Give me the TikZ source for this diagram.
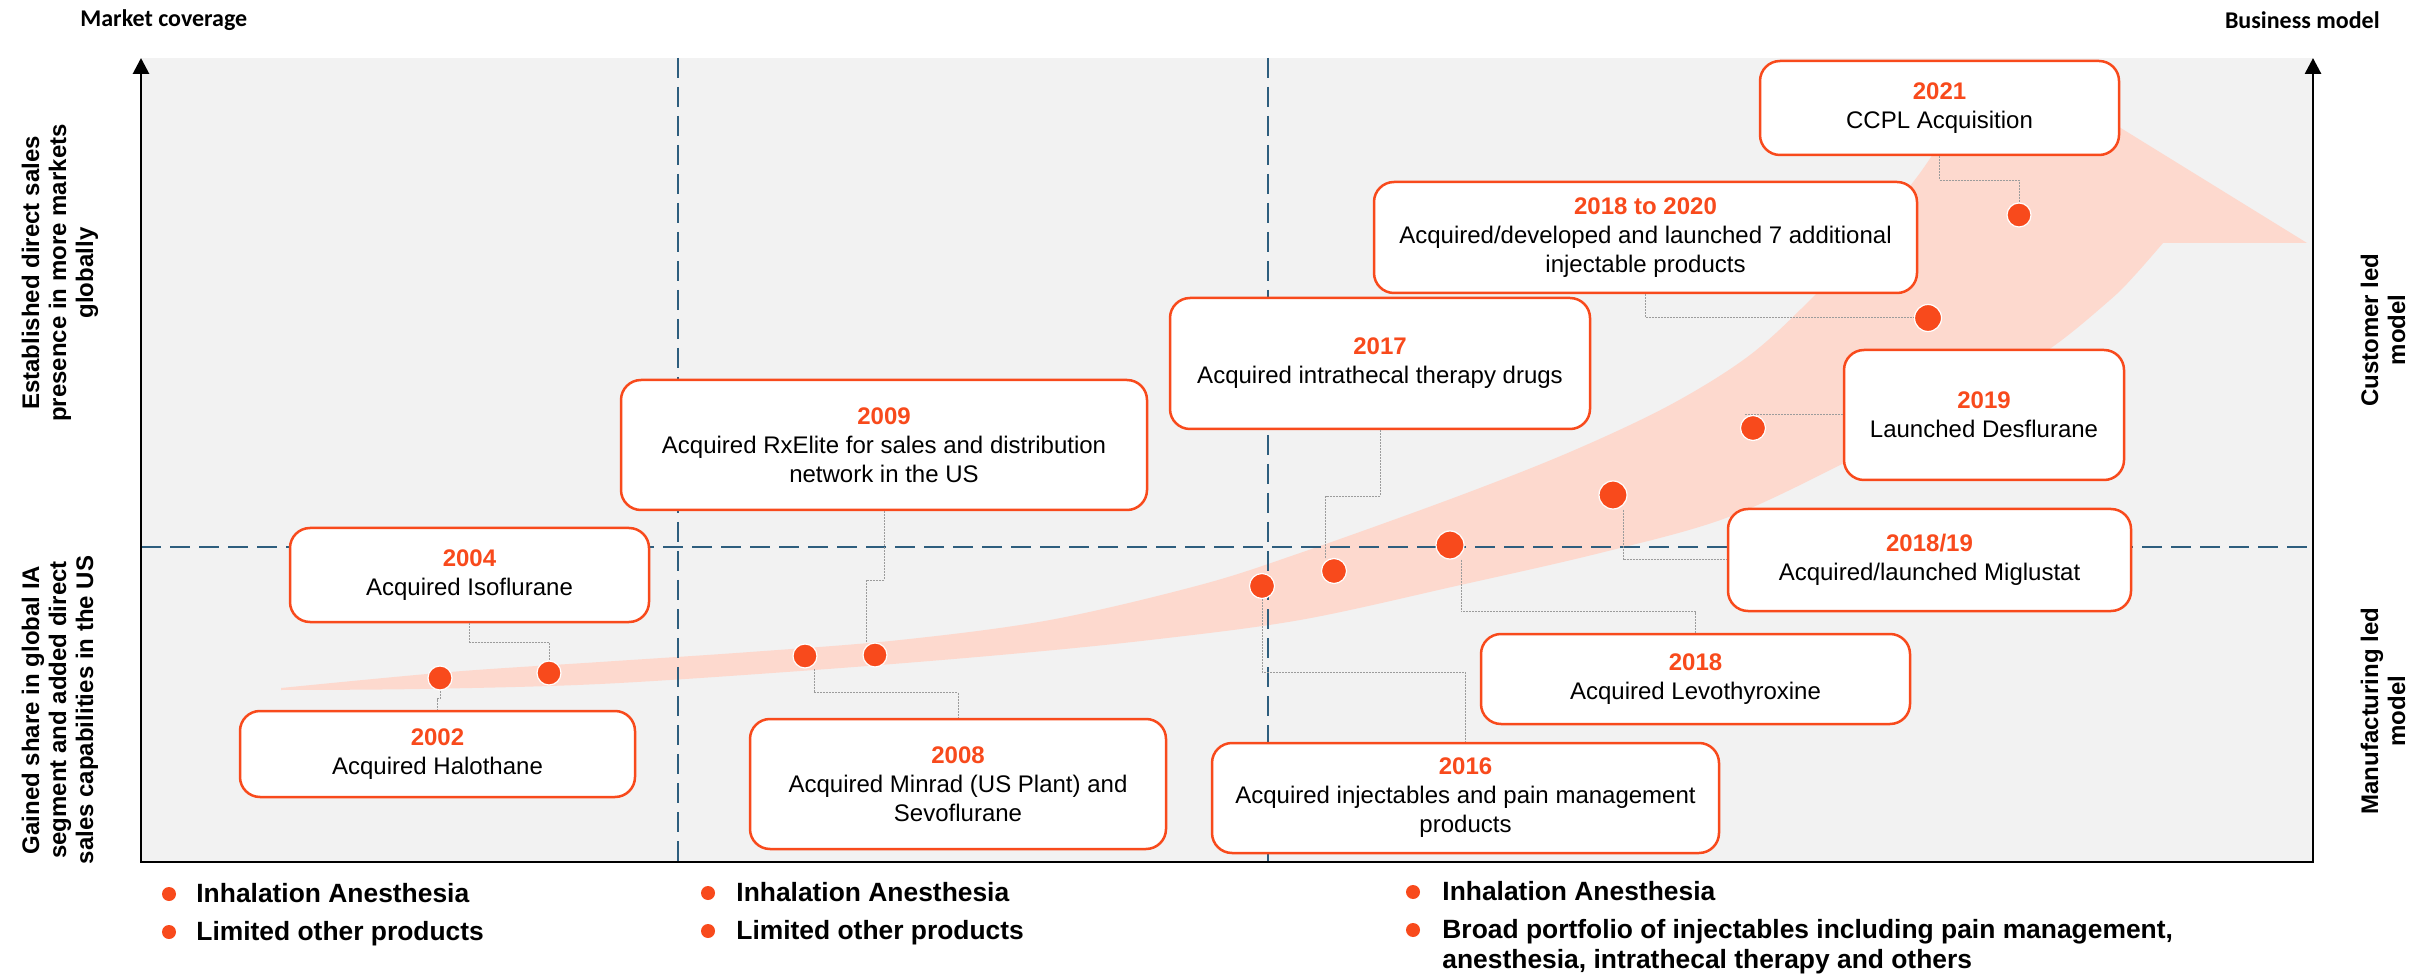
\documentclass[tikz,border=0pt]{standalone}
\usepackage{fontspec}
\setmainfont{Liberation Sans}
\newfontfamily\hdfont{Carlito}
\usetikzlibrary{arrows.meta}
\definecolor{accent}{HTML}{F84A1C}
\definecolor{band}{HTML}{FDD9CE}
\definecolor{panel}{HTML}{F2F2F2}
\definecolor{divblue}{HTML}{2E5E7E}
\definecolor{conngray}{HTML}{9C9C9C}
\newcommand\yr[1]{\textcolor{accent}{\bfseries #1}}
\begin{document}
\begin{tikzpicture}[x=0.5pt,y=-0.5pt,
  box/.style={draw=accent, line width=1.25pt, fill=white, rounded corners=10pt, align=center, inner sep=2pt, font=\fontsize{12}{14.5}\selectfont},
  dot/.style={circle, fill=accent, draw=white, line width=0.6pt, inner sep=0pt},
  bullet/.style={circle, fill=accent, inner sep=0pt, minimum size=7pt},
  conn/.style={draw=conngray, line width=0.5pt, dash pattern=on 1pt off 0.5pt},
  divider/.style={draw=divblue, line width=1.3pt, dash pattern=on 10pt off 4.5pt},
  axisline/.style={line width=1.4pt, black, line join=miter},
  sidelabel/.style={rotate=90, align=center, font=\bfseries\fontsize{12}{13.5}\selectfont},
  legend/.style={font=\bfseries\fontsize{13.2}{15}\selectfont, inner sep=0pt, align=left},
  header/.style={font=\hdfont\bfseries\fontsize{12}{14}\selectfont, inner sep=0pt}]
\useasboundingbox (0,0) rectangle (2428,977);
% panel
\fill[panel] (141,58) rectangle (2313,862);
% growth band arrow
\fill[band] plot[smooth, tension=0.55] coordinates {(281,688) (450,672) (600,662) (750,652) (900,640) (1050,620) (1200,585) (1300,553) (1456,497) (1570,452) (1670,405) (1750,355) (1815,295) (1870,235) (1917,177) (1950,130) (1985,95)}
  -- (2030,72) -- (2307,243) -- (2163,243)
  -- plot[smooth, tension=0.55] coordinates {(2163,243) (2135,275) (2110,300) (2048,350) (1962,400) (1844,463) (1726,518) (1600,553) (1456,586) (1300,620) (1150,640) (1000,655) (814,670) (600,684) (420,689) (281,690)} -- cycle;
% dividers
\coordinate (v1t) at (678,58); \coordinate (v1b) at (678,862);
\coordinate (v2t) at (1268,58); \coordinate (v2b) at (1268,862);
\coordinate (hl) at (141,547); \coordinate (hr) at (2313,547);
\draw[divider] (v1t) -- (v1b);
\draw[divider] (v2t) -- (v2b);
\draw[divider] (hl) -- (hr);
% dots
\node[dot, minimum size=12pt] (d2002) at (440,678) {};
\node[dot, minimum size=12pt] (d2004) at (549,673) {};
\node[dot, minimum size=12pt] (d2008) at (805,656) {};
\node[dot, minimum size=12pt] (d2009) at (875,655) {};
\node[dot, minimum size=12.5pt] (d2016) at (1262,586) {};
\node[dot, minimum size=12.5pt] (d2017) at (1334,571) {};
\node[dot, minimum size=14pt] (d2018) at (1450,545) {};
\node[dot, minimum size=14pt] (d201819) at (1613,495) {};
\node[dot, minimum size=12.5pt] (d2019) at (1753,428) {};
\node[dot, minimum size=13.5pt] (d1820) at (1928,318) {};
\node[dot, minimum size=12pt] (d2021) at (2019,215) {};
% boxes
\node[box, minimum width=197.5pt, minimum height=43pt] (b2002) at (437.5,754) {\yr{2002}\\Acquired Halothane};
\node[box, minimum width=179.5pt, minimum height=47pt] (b2004) at (469.5,575) {\yr{2004}\\Acquired Isoflurane};
\node[box, minimum width=208pt, minimum height=65pt] (b2008) at (958,784) {\yr{2008}\\Acquired Minrad (US Plant) and\\Sevoflurane};
\node[box, minimum width=263pt, minimum height=65pt] (b2009) at (884,445) {\yr{2009}\\Acquired RxElite for sales and distribution\\network in the US};
\node[box, minimum width=253.5pt, minimum height=55pt] (b2016) at (1465.5,798) {\yr{2016}\\Acquired injectables and pain management\\products};
\node[box, minimum width=210pt, minimum height=65.5pt] (b2017) at (1380,363.5) {\yr{2017}\\Acquired intrathecal therapy drugs};
\node[box, minimum width=214.5pt, minimum height=45pt] (b2018) at (1695.5,679) {\yr{2018}\\Acquired Levothyroxine};
\node[box, minimum width=201.5pt, minimum height=51pt] (b201819) at (1929.5,560) {\yr{2018/19}\\Acquired/launched Miglustat};
\node[box, minimum width=140pt, minimum height=65pt] (b2019) at (1984,415) {\yr{2019}\\Launched Desflurane};
\node[box, minimum width=271.5pt, minimum height=55.5pt] (b1820) at (1645.5,237.5) {\yr{2018 to 2020}\\Acquired/developed and launched 7 additional\\injectable products};
\node[box, minimum width=179.5pt, minimum height=47pt] (b2021) at (1939.5,108) {\yr{2021}\\CCPL Acquisition};
% connectors
\draw[conn] (d2002.south) -- ++(0,8) -| (b2002.north);
\draw[conn] (b2004.south) -- ++(0,19) -| (d2004.north);
\draw[conn] (b2009.south) -- ++(0,69) -| ([xshift=-4.5pt]d2009.north);
\draw[conn] ([xshift=4.5pt]d2008.south) -- ++(0,24) -| (b2008.north);
\draw[conn] (d2016.south) -- ++(0,73) -| (b2016.north);
\draw[conn] (b2017.south) -- ++(0,66) -| ([xshift=-4.25pt]d2017.north);
\draw[conn] ([xshift=5.5pt]d2018.south) -- ++(0,52) -| (b2018.north);
\draw[conn] ([xshift=5pt]d201819.south) |- (b201819.west);
\draw[conn] (b2019.west) -| ([xshift=-4.5pt]d2019.north);
\draw[conn] (b1820.south) |- (d1820.west);
\draw[conn] (b2021.south) -- ++(0,24) -| (d2021.north);
% axes
\coordinate (axtl) at (141,58); \coordinate (axbl) at (141,862);
\coordinate (axbr) at (2313,862); \coordinate (axtr) at (2313,58);
\draw[axisline, {Triangle[width=8pt,length=8pt]}-{Triangle[width=8pt,length=8pt]}] (axtl) -- (axbl) -- (axbr) -- (axtr);
% headers
\node[header, anchor=west] (hmc) at (80,20) {Market coverage};
\node[header, anchor=east] (hbm) at (2380,20) {Business model};
% side labels
\node[sidelabel] (lup) at (60,273) {Established direct sales\\presence in more markets\\globally};
\node[sidelabel] (llow) at (60,710) {Gained share in global IA\\segment and added direct\\sales capabilities in the US};
\node[sidelabel] (rup) at (2383,330) {Customer led\\model};
\node[sidelabel] (rlow) at (2383,711) {Manufacturing led\\model};
% legend
\node[bullet] (g1a) at (169,894) {};
\node[legend, anchor=base west] (t1a) at (196,902) {Inhalation Anesthesia};
\node[bullet] (g1b) at (169,932) {};
\node[legend, anchor=base west] (t1b) at (196,940) {Limited other products};
\node[bullet] (g2a) at (708,893) {};
\node[legend, anchor=base west] (t2a) at (736,901) {Inhalation Anesthesia};
\node[bullet] (g2b) at (708,931) {};
\node[legend, anchor=base west] (t2b) at (736,939) {Limited other products};
\node[bullet] (g3a) at (1413,892) {};
\node[legend, anchor=base west] (t3a) at (1442,900) {Inhalation Anesthesia};
\node[bullet] (g3b) at (1413,930) {};
\node[legend, anchor=base west] (t3b) at (1442,968) {Broad portfolio of injectables including pain management,\\anesthesia, intrathecal therapy and others};
\end{tikzpicture}
\end{document}
